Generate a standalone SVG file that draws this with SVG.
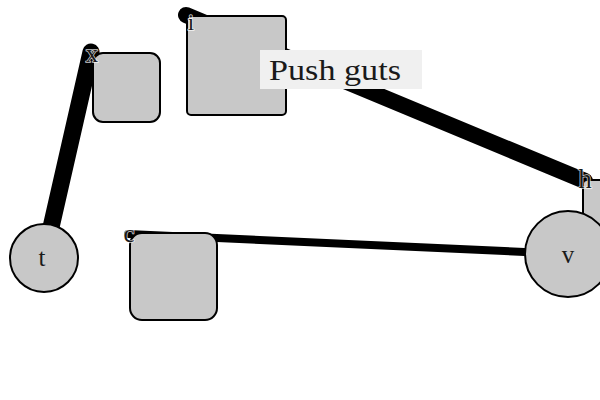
<svg xmlns="http://www.w3.org/2000/svg" width="600" height="400" viewBox="0 0 600 400">
<style>
.node{fill:#c8c8c8;stroke:#000;stroke-width:2}
.edge{stroke:#000;stroke-linecap:round;fill:none}
.lbl{font-family:'Liberation Serif','Times New Roman','DejaVu Serif',serif;fill:#1a1a1a;text-anchor:middle}
.corner{stroke:#fff;stroke-width:1.5;stroke-opacity:0.8;paint-order:stroke}
</style>
<rect width="600" height="400" fill="#fff"/>
<g id="connectors">
<line class="edge" x1="91" y1="52" x2="44" y2="258" stroke-width="17"/>
<line class="edge" x1="186" y1="15" x2="585" y2="181" stroke-width="16"/>
<line class="edge" x1="128" y1="234" x2="568" y2="254" stroke-width="8"/>
</g>
<g id="node-t">
<circle class="node" cx="44" cy="258" r="34"/>
<text class="lbl" x="42" y="266" font-size="25">t</text>
</g>
<g id="node-x">
<rect class="node" x="93" y="53" width="67" height="69" rx="10"/>
<text class="lbl corner" x="92" y="62" font-size="25">x</text>
</g>
<g id="node-i">
<rect class="node" x="187" y="16" width="99" height="99" rx="4"/>
<text class="lbl corner" x="191" y="30" font-size="23">i</text>
</g>
<g id="node-h">
<rect class="node" x="583" y="180" width="80" height="70" rx="4"/>
<text class="lbl corner" x="585" y="188" font-size="27">h</text>
</g>
<g id="node-v">
<circle class="node" cx="568" cy="254" r="43"/>
<text class="lbl" x="568" y="263" font-size="25">v</text>
</g>
<g id="node-c">
<rect class="node" x="130" y="233" width="87" height="87" rx="12"/>
<text class="lbl corner" x="129" y="242" font-size="25">c</text>
</g>
<g id="label-push-guts">
<rect x="260" y="50" width="162" height="39" fill="#f0f0f0"/>
<text x="269" y="80" style="font-family:'Liberation Serif','Times New Roman','DejaVu Serif',serif" font-size="30" fill="#1a1a1a" textLength="132" lengthAdjust="spacingAndGlyphs">Push guts</text>
</g>
</svg>
